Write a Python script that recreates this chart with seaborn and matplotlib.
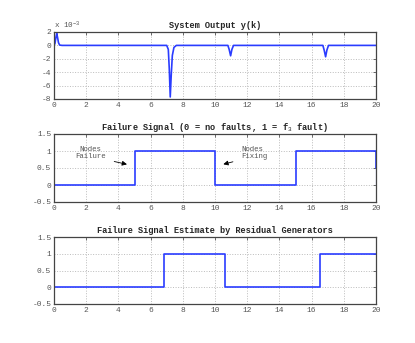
import matplotlib
matplotlib.use("Agg")
import matplotlib.pyplot as plt
import seaborn as sns

# system output y(k), values in units of 1e-3
out_t = [0, 0.06, 0.12, 0.17, 0.22, 0.28, 0.35, 0.5,
         7.0, 7.1, 7.16, 7.22, 7.28, 7.35, 7.45, 7.6,
         10.8, 10.88, 10.97, 11.05, 11.15,
         16.7, 16.78, 16.87, 16.95, 17.05, 20]
out_y = [0, 0.3, 1.2, 1.8, 1.2, 0.4, 0.05, 0,
         0, -0.6, -3.5, -7.7, -4.5, -1.5, -0.3, 0,
         0, -0.6, -1.55, -0.6, 0,
         0, -0.7, -1.7, -0.7, 0, 0]

# failure signal f3 (switch times and level after each switch)
fail_t = [0, 5, 10, 15, 20, 20]
fail_v = [0, 1, 0, 1, 1, 0]

# estimate from residual generators
est_t = [0, 6.85, 10.6, 16.5, 20]
est_v = [0, 1, 0, 1, 1]

titles = [
    "System Output y(k)",
    "Failure Signal (0 = no faults, 1 = f$_3$ fault)",
    "Failure Signal Estimate by Residual Generators",
]

sns.set_style("white")
plt.rcParams["font.family"] = ["Liberation Mono", "DejaVu Sans Mono"]
plt.rcParams["mathtext.fontset"] = "custom"
plt.rcParams["mathtext.rm"] = "Liberation Mono"
plt.rcParams["mathtext.it"] = "Liberation Mono"
plt.rcParams["mathtext.bf"] = "Liberation Mono:bold"

line_color = "#2a3cff"
fig = plt.figure(figsize=(4.15, 3.43), dpi=100)
W, H = 415, 343
boxes = [(32, 99), (134, 202), (237, 304)]
axes = []
for top, bot in boxes:
    ax = fig.add_axes([54 / W, 1 - bot / H, (376 - 54) / W, (bot - top) / H])
    axes.append(ax)

sns.lineplot(x=out_t, y=out_y, ax=axes[0], color=line_color, linewidth=1.2,
             sort=False)
sns.lineplot(x=fail_t, y=fail_v, ax=axes[1], color=line_color, linewidth=1.2,
             sort=False, drawstyle="steps-post")
sns.lineplot(x=est_t, y=est_v, ax=axes[2], color=line_color, linewidth=1.2,
             sort=False, drawstyle="steps-post")

axes[0].set_ylim(-8, 2)
axes[0].set_yticks([-8, -6, -4, -2, 0, 2])
axes[0].set_yticklabels(["-8", "-6", "-4", "-2", "0", "2"])
axes[0].text(0.0, 1.02, "x 10$^{-3}$", transform=axes[0].transAxes,
             fontsize=5.5, color="#555555", ha="left", va="bottom")

for ax in axes[1:]:
    ax.set_ylim(-0.5, 1.5)
    ax.set_yticks([-0.5, 0, 0.5, 1, 1.5])
    ax.set_yticklabels(["-0.5", "0", "0.5", "1", "1.5"])

for ax, title in zip(axes, titles):
    ax.set_xlim(0, 20)
    ax.set_xticks(range(0, 21, 2))
    ax.set_title(title, fontsize=6.2, fontweight="bold", pad=3)
    ax.grid(True, linestyle=":", color="#bbbbbb", linewidth=0.7)
    ax.tick_params(direction="in", length=2.5, width=0.6, labelsize=5.7,
                   colors="#555555", top=True, right=True, pad=2)
    for sp in ax.spines.values():
        sp.set_color("#444444")
        sp.set_linewidth(0.9)
    ax.set_xlabel("")
    ax.set_ylabel("")

arrow = dict(arrowstyle="-|>", color="black", lw=0.6, mutation_scale=7)
axes[1].annotate("Nodes\nFailure", xy=(4.7, 0.59), xytext=(2.25, 0.95),
                 fontsize=5.3, color="#555555", ha="center", va="center",
                 linespacing=0.95,
                 arrowprops=dict(arrow, relpos=(1.0, 0.0), shrinkA=4))
axes[1].annotate("Nodes\nFixing", xy=(10.35, 0.59), xytext=(11.65, 0.95),
                 fontsize=5.3, color="#555555", ha="left", va="center",
                 linespacing=0.95,
                 arrowprops=dict(arrow, relpos=(0.0, 0.0), shrinkA=4))

plt.savefig("out.png", dpi=100)
plt.close()
